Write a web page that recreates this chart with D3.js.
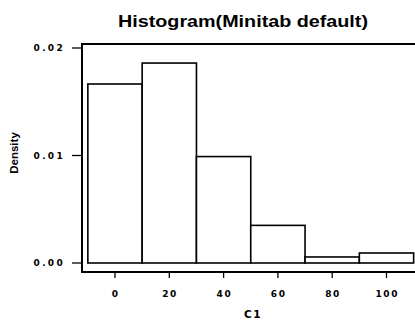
<!DOCTYPE html>
<html>
<head>
<meta charset="utf-8">
<script src="https://cdn.jsdelivr.net/npm/d3@7"></script>
<style>
body { margin:0; background:#fff; }
text { font-family: "Liberation Sans", Arial, sans-serif; fill:#000; }
</style>
</head>
<body>
<script>
const width = 415;
const height = 321;

// histogram bins (C1) and densities
const binStarts = [-10, 10, 30, 50, 70, 90];
const binWidth = 20;
const densities = [0.01665, 0.0186, 0.0099, 0.0035, 0.00056, 0.00093];
const xTicks = [0, 20, 40, 60, 80, 100];
const yTicks = [0, 0.01, 0.02];

const svg = d3.select("body").append("svg")
.attr("width",width)
.attr("height",height);

const x = d3.scaleLinear().domain([0,100]).range([115,386.5]);
const y = d3.scaleLinear().domain([0,0.02]).range([263,48]);

const frame = {left:82, top:44, bottom:272};

// frame (open to the right edge)
svg.append("path")
.attr("d", `M${width+5},${frame.top}H${frame.left}V${frame.bottom}H${width+5}`)
.attr("fill","none")
.attr("stroke","#000")
.attr("stroke-width",2);

// bars
svg.selectAll(".bar")
.data(binStarts.map((s,i)=>({start:s, value:densities[i]})))
.join("rect")
.attr("class","bar")
.attr("x", d=>x(d.start))
.attr("y", d=>y(d.value))
.attr("width", d=>x(d.start+binWidth)-x(d.start))
.attr("height", d=>y(0)-y(d.value))
.attr("fill","#fff")
.attr("stroke","#000")
.attr("stroke-width",1.6);

// y axis ticks
const yAxis = svg.append("g");
yAxis.selectAll("line")
.data(yTicks)
.join("line")
.attr("x1",72).attr("x2",frame.left)
.attr("y1",d=>y(d)).attr("y2",d=>y(d))
.attr("stroke","#000").attr("stroke-width",1.3);
yAxis.selectAll("text")
.data(yTicks)
.join("text")
.attr("x",65)
.attr("y",d=>y(d))
.attr("dy","0.36em")
.attr("text-anchor","end")
.style("font-family","'DejaVu Sans', sans-serif")
.style("font-size","9px")
.style("font-weight","bold")
.style("letter-spacing","2.3px")
.text(d=>d3.format(".2f")(d));

// x axis ticks
const xAxis = svg.append("g");
xAxis.selectAll("line")
.data(xTicks)
.join("line")
.attr("x1",d=>x(d)).attr("x2",d=>x(d))
.attr("y1",frame.bottom).attr("y2",frame.bottom+6)
.attr("stroke","#000").attr("stroke-width",1.3);
xAxis.selectAll("text")
.data(xTicks)
.join("text")
.attr("x",d=>x(d)+0.8)
.attr("y",294)
.attr("dy","0.36em")
.attr("text-anchor","middle")
.style("font-family","'DejaVu Sans', sans-serif")
.style("font-size","9px")
.style("font-weight","bold")
.style("letter-spacing","1.6px")
.text(d=>d);

// axis titles
svg.append("text")
.attr("x",253).attr("y",314)
.attr("dy","0.36em")
.attr("text-anchor","middle")
.style("font-family","'DejaVu Sans', sans-serif")
.style("font-size","10.5px")
.style("font-weight","bold")
.style("letter-spacing","1.5px")
.text("C1");

svg.append("text")
.attr("transform","translate(14,153) rotate(-90)")
.attr("dy","0.35em")
.attr("text-anchor","middle")
.style("font-size","11.5px")
.style("font-weight","600")
.text("Density");

svg.append("text")
.attr("x",243).attr("y",21)
.attr("dy","0.35em")
.attr("text-anchor","middle")
.attr("textLength",250)
.attr("lengthAdjust","spacingAndGlyphs")
.style("font-size","16px")
.style("font-weight","bold")
.text("Histogram(Minitab default)");
</script>
</body>
</html>
